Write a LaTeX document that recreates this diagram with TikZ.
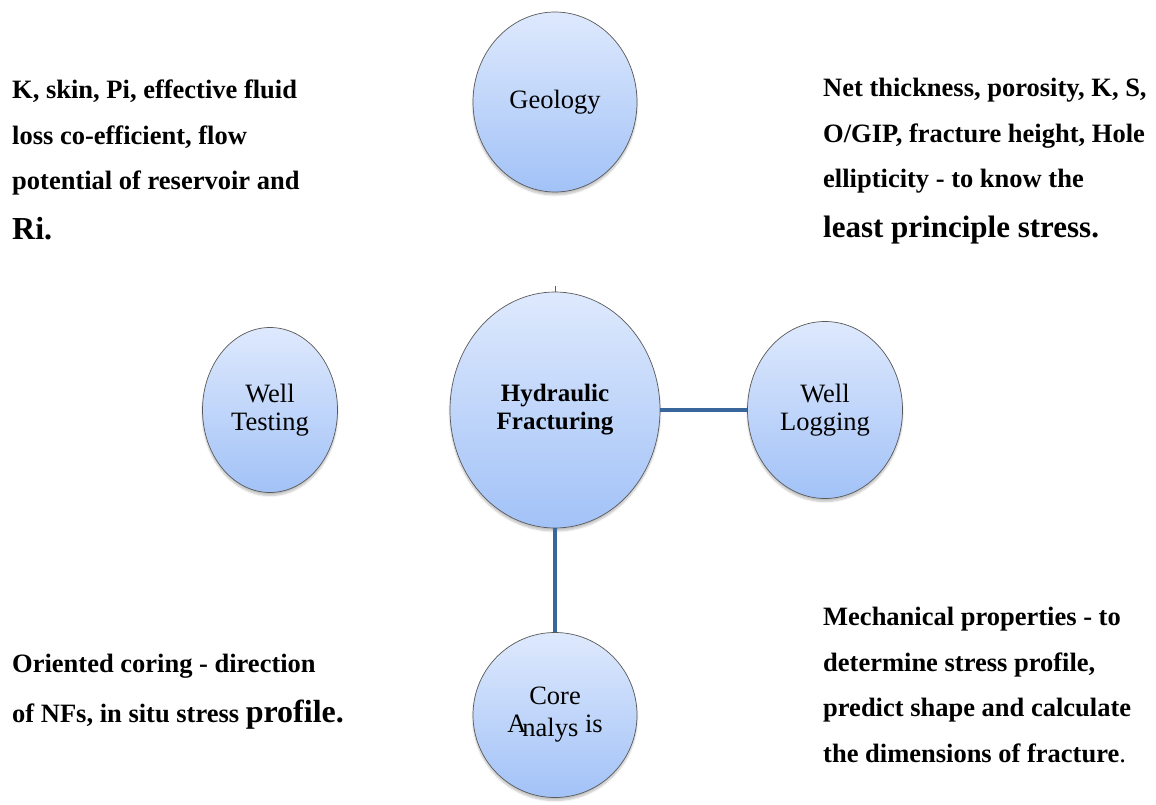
\documentclass[tikz,border=0pt]{standalone}
\usepackage{fontspec}
\setmainfont{Liberation Serif}
\usetikzlibrary{shapes.geometric, shadows.blur}

\definecolor{bubtop}{RGB}{222,233,253}
\definecolor{bubbot}{RGB}{162,194,247}
\definecolor{linkblue}{RGB}{58,103,155}

\begin{document}
\begin{tikzpicture}[x=1pt, y=-1pt,
	bub/.style={ellipse, draw=black!65, line width=0.7pt, inner sep=0pt,
		top color=bubtop, bottom color=bubbot, align=center,
		font=\fontsize{26.5}{28}\selectfont,
		blur shadow={shadow xshift=0pt, shadow yshift=-3pt, shadow opacity=25, shadow blur steps=6}},
	note/.style={anchor=base west, align=left, inner sep=0pt,
		font=\fontsize{26.5}{45.5}\selectfont\bfseries},
	link/.style={draw=linkblue, line width=4pt}]
	\useasboundingbox (0,0) rectangle (1156,805);

	\node[bub, minimum width=210, minimum height=236, font=\fontsize{25}{28}\selectfont]   (nhf)  at (555,410)  {\textbf{Hydraulic}\\\textbf{Fracturing}};
	\node[bub, minimum width=164, minimum height=180]   (ngeo) at (555,102)  {Geology};
	\node[bub, minimum width=155, minimum height=177]   (nwl)  at (825,410)  {Well\\Logging};
	\node[bub, minimum width=135, minimum height=165]   (nwt)  at (270,410)  {Well\\Testing};
	\node[bub, minimum width=164, minimum height=165]   (nca)  at (555,715)  {Core\\A\kern-4pt\raisebox{-4pt}{nalys} is};
	\coordinate (tick) at (555,286);

	\path[link]
			(nhf) edge[]  (nwl)
			(nhf) edge[]  (nca)
			(nhf) edge[line width=0.8pt]  (tick)
			;

	% notes round the bubbles (placed at the baseline of their last line)
	\node[note] (twt) at (12,240)  {K, skin, Pi, effective fluid\\loss co-efficient, flow\\potential of reservoir and\\[5pt]{\fontsize{32}{45}\selectfont Ri.}};
	\node[note] (twl) at (823,237) {Net thickness, porosity, K, S,\\O/GIP, fracture height, Hole\\ellipticity - to know the\\[4pt]{\fontsize{31}{45}\selectfont least principle stress.}};
	\node[note] (tca) at (12,722)  {Oriented coring - direction\\[4pt]of NFs, in situ stress {\fontsize{32}{45}\selectfont profile.}};
	\node[note] (tmp) at (823,762) {Mechanical properties - to\\determine stress profile,\\predict shape and calculate\\the dimensions of fracture\textmd{.}};
\end{tikzpicture}
\end{document}
